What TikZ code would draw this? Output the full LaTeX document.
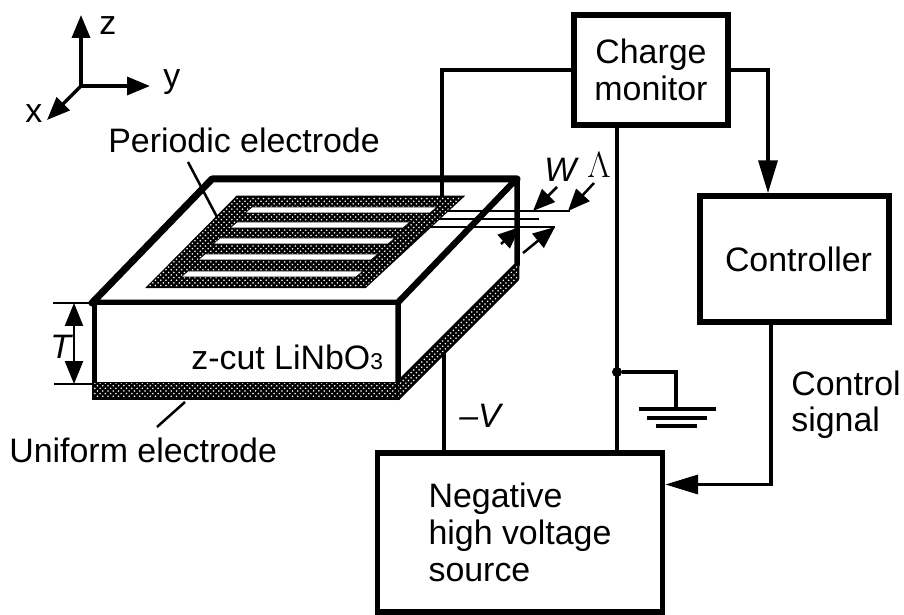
\documentclass[tikz,border=0pt]{standalone}
\usepackage{fontspec}
\setmainfont{Liberation Sans}
\usetikzlibrary{arrows.meta, patterns, calc}
\tikzset{
	labeltext/.style={font=\fontsize{19.3}{21}\selectfont, inner sep=0pt}
}
\tikzset{
	blockbox/.style={draw, line width=0.11cm, fill=white, labeltext, align=center}
}
\tikzset{
	wire/.style={line width=0.07cm},
	thinwire/.style={line width=0.05cm},
	bigtip/.style={-{Stealth[length=0.46cm,width=0.36cm,inset=0pt]}},
	longtip/.style={-{Stealth[length=0.66cm,width=0.38cm,inset=0pt]}},
	midtip/.style={-{Stealth[length=0.44cm,width=0.36cm,inset=0pt]}},
	electrode/.style={fill=black, postaction={pattern=crosshatch dots, pattern color=white}}
}
\newcommand{\smallthree}{{\fontsize{13}{14}\selectfont 3}}

\begin{document}
\begin{tikzpicture}[x=0.02cm, y=-0.02cm]
      \useasboundingbox (0,0) rectangle (904,615);
      % axes
      \coordinate (origin) at (81,86);
      \coordinate (ztip) at (81,15);
      \coordinate (ytip) at (150,86);
      \coordinate (xtip) at (47,120);
      \draw[wire, bigtip] (origin) -- (ztip);
      \draw[wire, bigtip] (origin) -- (ytip);
      \draw[wire, bigtip] (origin) -- (xtip);
      \node[labeltext, anchor=base west] (zlabel) at (99,35) {z};
      \node[labeltext, anchor=base west] (ylabel) at (163,88) {y};
      \node[labeltext, anchor=base west] (xlabel) at (25,123) {x};
      % crystal
      \draw[line width=0.14cm, line join=round, fill=white] (212,179) -- (517,179) -- (398,303) -- (92,303) -- cycle;
      \draw[line width=0.1cm, fill=white] (94,303) rectangle (398,384);
      \draw[line width=0.11cm, line join=round, fill=white] (398,303) -- (517,179) -- (517,265) -- (398,384) -- cycle;
      \draw[line width=0.09cm, electrode] (94,384) rectangle (398,398);
      \draw[line width=0.09cm, line join=round, electrode] (398,384) -- (517,265) -- (517,279) -- (398,398) -- cycle;
      % periodic electrode
      \draw[thinwire, electrode] (237,197) -- (462,197) -- (365,287) -- (148,287) -- cycle;
      \foreach \lx/\rx/\ty in {252/437/207, 237/410/222, 220/395/238, 205/378/254, 188/363/271} {
        \draw[thin, fill=white] (\lx,\ty) -- (\rx,\ty) -- ++(-7,6) -- (\lx-7,\ty+6) -- cycle;
      }
      \draw[thinwire] (447,211) -- (570,211);
      \draw[thinwire] (438,219) -- (539,219);
      \draw[thinwire] (430,227) -- (555,227);
      % W and Lambda markers
      \coordinate (wtop) at (557,187);
      \coordinate (wtoptip) at (533,211);
      \coordinate (ltop) at (594,183);
      \coordinate (ltoptip) at (568,211);
      \coordinate (wlow) at (501,244);
      \coordinate (wlowtip) at (520,227);
      \coordinate (llow) at (523,253);
      \coordinate (llowtip) at (555,227);
      \draw[thinwire, midtip] (wtop) -- (wtoptip);
      \draw[thinwire, midtip] (ltop) -- (ltoptip);
      \draw[thinwire, midtip] (wlow) -- (wlowtip);
      \draw[thinwire, midtip] (llow) -- (llowtip);
      \node[labeltext, anchor=base west] (wlabel) at (544,182) {\textit{W}};
      \node[labeltext, anchor=base west] (lambdalabel) at (587,178) {$\Lambda$};
      % thickness marker
      \coordinate (ttop) at (74,303);
      \coordinate (tbottom) at (74,384);
      \draw[thinwire] (53,303) -- (92,303);
      \draw[thinwire] (54,384) -- (92,384);
      \draw[thinwire, {Stealth[length=0.46cm,width=0.36cm,inset=0pt]}-{Stealth[length=0.46cm,width=0.36cm,inset=0pt]}] (ttop) -- (tbottom);
      \node[labeltext, anchor=base west] (tlabel) at (50,358) {\textit{T}};
      % labels on the crystal
      \node[labeltext, anchor=base west] (cutlabel) at (191,370) {z-cut LiNbO\smallthree};
      \node[labeltext, anchor=base west] (periodiclabel) at (108,153) {Periodic electrode};
      \node[labeltext, anchor=base west] (uniformlabel) at (9,462) {Uniform electrode};
      \coordinate (periodicfoot) at (217,217);
      \coordinate (uniformfoot) at (185,402);
      \draw[thinwire] (188,162) -- (periodicfoot);
      \draw[thinwire] (157,427) -- (uniformfoot);
      % blocks
      \node[blockbox, minimum width=3.08cm, minimum height=2.2cm] (chargemon) at (651,70) {Charge\\monitor};
      \node[blockbox, minimum width=3.78cm, minimum height=2.52cm] (controller) at (794.5,259) {\hspace*{0.16cm}Controller};
      \node[blockbox, minimum width=5.7cm, minimum height=3.18cm, align=left] (hvsource) at (520,532.5) {Negative\\high voltage\\source};
      % wiring
      \coordinate (elecin) at (442,197);
      \coordinate (sidein) at (444,352);
      \coordinate (gndfoot) at (676,409);
      \node[circle, fill, inner sep=0pt, minimum size=0.2cm] (gndjoin) at (617,372) {};
      \draw[wire] (chargemon.west) -| (elecin);
      \draw[wire, longtip] (chargemon.east) -| ([xshift=-0.53cm]controller.north);
      \draw[wire] (gndjoin |- chargemon.south) -- (gndjoin |- hvsource.north);
      \draw[wire] (sidein) -- (sidein |- hvsource.north);
      \draw[wire] (gndjoin) -| (gndfoot);
      \draw[line width=0.09cm] (639,409) -- (716,409);
      \draw[line width=0.09cm] (647,418) -- (707,418);
      \draw[line width=0.09cm] (656,426) -- (697,426);
      \draw[wire, longtip] ([xshift=-0.47cm]controller.south) |- ($(hvsource.east)+(0,-48)$);
      \node[labeltext, anchor=base west] (minusv) at (459,427) {\textit{--V}};
      \node[labeltext, anchor=base west] (controllabel) at (791,396) {Control};
      \node[labeltext, anchor=base west] (signallabel) at (791,432) {signal};
    \end{tikzpicture}
\end{document}
